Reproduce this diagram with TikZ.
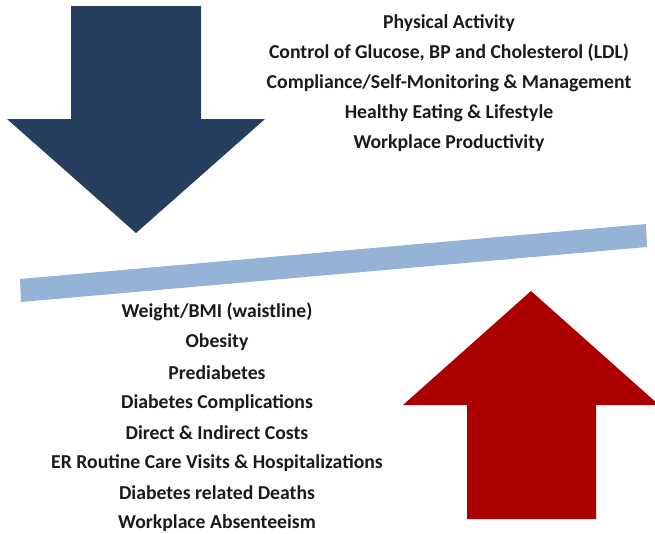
\documentclass[tikz,border=0pt]{standalone}
\usepackage{fontspec}
\setmainfont{Carlito}
\definecolor{darkblue}{HTML}{263F5F}
\definecolor{darkred}{HTML}{AC0000}
\definecolor{barblue}{HTML}{95B3D7}
\definecolor{txt}{HTML}{1A1A1A}
\begin{document}
\begin{tikzpicture}[x=1pt,y=-1pt,
  lbl/.style={font=\fontsize{19.7}{23}\selectfont\bfseries, text=txt, inner sep=0pt, anchor=center}]
\useasboundingbox (0,0) rectangle (655,533);
% down arrow
\fill[darkblue] (71,6) -- (201,6) -- (201,119) -- (265,119) -- (136,233) -- (7,119) -- (71,119) -- cycle;
% up arrow
\fill[darkred] (531,291) -- (659,405) -- (596,405) -- (596,519) -- (467,519) -- (467,405) -- (403,405) -- cycle;
% bar
\fill[barblue] (20,279) -- (646,224) -- (647,247) -- (21,302) -- cycle;
% top texts
\node[lbl] (t1) at (449,23) {Physical Activity};
\node[lbl] (t2) at (449,53) {Control of Glucose, BP and Cholesterol (LDL)};
\node[lbl] (t3) at (449,83) {Compliance/Self-Monitoring \& Management};
\node[lbl] (t4) at (449,113) {Healthy Eating \& Lifestyle};
\node[lbl] (t5) at (449,143) {Workplace Productivity};
% bottom texts
\node[lbl] (b1) at (217,312) {Weight/BMI (waistline)};
\node[lbl] (b2) at (217,342) {Obesity};
\node[lbl] (b3) at (217,373) {Prediabetes};
\node[lbl] (b4) at (217,403) {Diabetes Complications};
\node[lbl] (b5) at (217,433) {Direct \& Indirect Costs};
\node[lbl] (b6) at (217,463) {ER Routine Care Visits \& Hospitalizations};
\node[lbl] (b7) at (217,493) {Diabetes related Deaths};
\node[lbl] (b8) at (217,523) {Workplace Absenteeism};
\end{tikzpicture}
\end{document}
